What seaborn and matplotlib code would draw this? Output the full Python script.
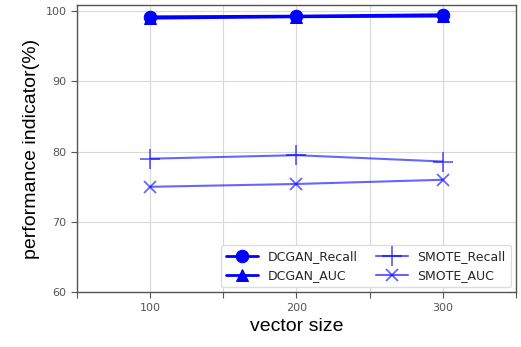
import numpy as np
import pandas as pd
import seaborn as sns
import matplotlib.pyplot as plt
from matplotlib.ticker import MultipleLocator, FixedLocator

# data
vector_size = [100, 200, 300]
dcgan_recall = [99.2, 99.3, 99.5]
dcgan_auc = [99.0, 99.2, 99.3]
smote_recall = [79.0, 79.5, 78.6]
smote_auc = [75.0, 75.4, 76.0]

series = {
    "DCGAN_Recall": dcgan_recall,
    "DCGAN_AUC": dcgan_auc,
    "SMOTE_Recall": smote_recall,
    "SMOTE_AUC": smote_auc,
}
df = pd.DataFrame([
    {"vector size": v, "value": y, "name": name}
    for name, vals in series.items()
    for v, y in zip(vector_size, vals)
])

sns.set_style("white")
plt.rcParams['font.family'] = ['DejaVu Sans']

fig = plt.figure(figsize=(5.21, 3.47), dpi=100)
ax = fig.add_axes([0.148, 0.158, 0.842, 0.828])

styles = {
    "DCGAN_Recall": dict(marker="o", markersize=9, alpha=1.0, lw=2),
    "DCGAN_AUC": dict(marker="^", markersize=8, alpha=1.0, lw=2),
    "SMOTE_Recall": dict(marker="+", markersize=15, alpha=0.6, lw=1.5, markeredgewidth=1.3),
    "SMOTE_AUC": dict(marker="x", markersize=9, alpha=0.6, lw=1.5, markeredgewidth=1.3),
}
for name in series:
    sub = df[df["name"] == name]
    st = styles[name]
    sns.lineplot(data=sub, x="vector size", y="value", ax=ax, color="blue",
                 markeredgecolor="blue", markerfacecolor="blue",
                 label=name, **st)

ax.set_xlim(50, 350)
ax.set_ylim(60, 100.9)
ax.xaxis.set_major_locator(FixedLocator([100, 200, 300]))
ax.xaxis.set_minor_locator(FixedLocator([50, 150, 250, 350]))
ax.yaxis.set_major_locator(MultipleLocator(10))
ax.grid(True, which="both", axis="x", color="#d8d8d8", lw=0.8)
ax.grid(True, which="major", axis="y", color="#d8d8d8", lw=0.8)
ax.tick_params(axis="both", which="both", direction="out", length=4, width=0.8,
               colors="#555555", labelsize=8, bottom=True, left=True)
ax.tick_params(axis="x", which="minor", length=4)
for sp in ax.spines.values():
    sp.set_color("#555555")
    sp.set_linewidth(1.0)

ax.set_xlabel("vector size", fontsize=14, color="black", family="Liberation Sans")
ax.set_ylabel("performance indicator(%)", fontsize=14, color="black", family="Liberation Sans")

ax.legend(loc="lower right", ncol=2, fontsize=9, frameon=True, framealpha=1,
          edgecolor="#dddddd", handlelength=2.5, columnspacing=1.5,
          borderaxespad=0.4)

fig.savefig("out.png", dpi=100)
